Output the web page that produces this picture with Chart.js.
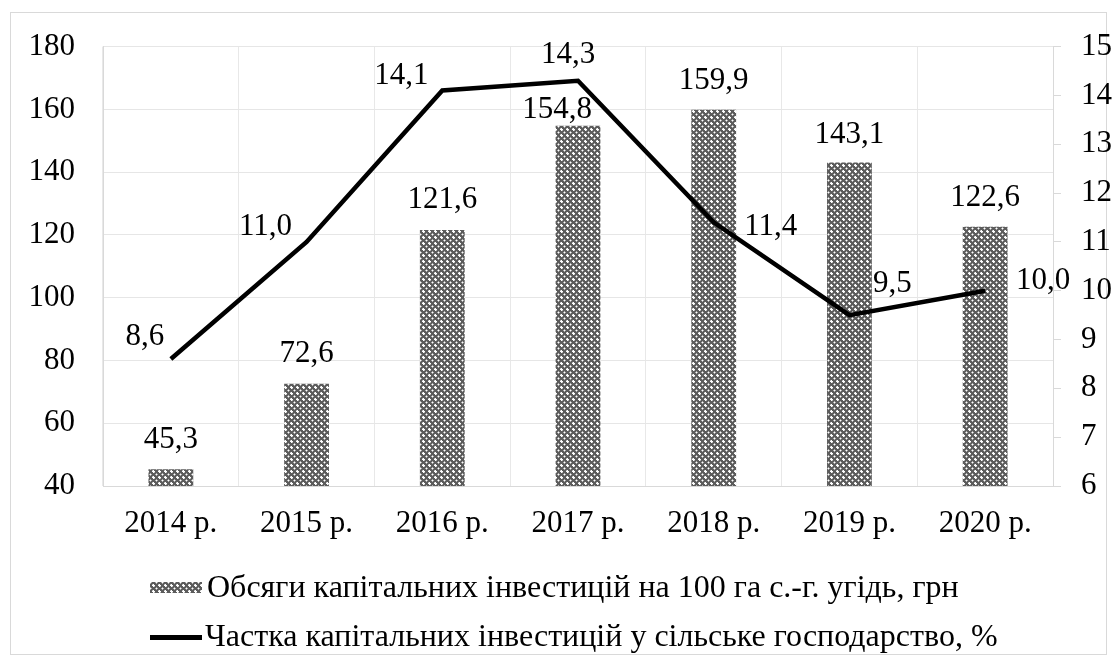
<!DOCTYPE html>
<html>
<head>
<meta charset="utf-8">
<script src="https://cdn.jsdelivr.net/npm/chart.js@4.4.1/dist/chart.umd.min.js"></script>
<style>
  html,body{margin:0;padding:0;background:#fff;}
  #wrap{position:relative;width:1117px;height:665px;}
</style>
</head>
<body>
<div id="wrap"><canvas id="chart" width="1117" height="665"></canvas></div>
<script>
// дані
const years = ['2014 р.','2015 р.','2016 р.','2017 р.','2018 р.','2019 р.','2020 р.'];
const invest100ha = [45.3, 72.6, 121.6, 154.8, 159.9, 143.1, 122.6];
const investShare = [8.6, 11.0, 14.1, 14.3, 11.4, 9.5, 10.0];
const leftTicks = [40, 180, 20];   // min, max, крок
const rightTicks = [6, 15, 1];

const barLabel = 'Обсяги капітальних інвестицій на 100 га с.-г. угідь, грн';
const lineLabel = 'Частка капітальних інвестицій у сільське господарство, %';

// зсуви підписів (як у Excel)
const barLblShift = [[0,-30],[0,-30],[0,-30],[-21,-16],[0,-29],[0,-28],[0,-29]];
const lineLblShift = [[-26,-22],[-41,-15],[-41,-15],[-10,-26],[57,4],[43,-31],[58,-10]];

const FONT = '"Liberation Serif","Times New Roman",serif';
const fmt = v => v.toFixed(1).replace('.', ',');

function makePattern(){
  const c = document.createElement('canvas');
  c.width = 6; c.height = 6;
  const g = c.getContext('2d');
  g.fillStyle = '#5c5c5c';
  g.fillRect(0,0,6,6);
  g.fillStyle = '#ffffff';
  [[3,2],[2,3],[3,3],[4,3],[3,4],[0,0]].forEach(p=>g.fillRect(p[0],p[1],1,1));
  g.fillStyle = '#b0b0b0';
  [[1,0],[0,1],[5,0],[0,5],[2,2],[4,4]].forEach(p=>g.fillRect(p[0],p[1],1,1));
  return g.createPattern(c,'repeat');
}
const pattern = makePattern();

const extras = {
  id:'extras',
  beforeDraw(chart){
    const ctx = chart.ctx;
    ctx.save();
    ctx.strokeStyle = '#d9d9d9'; ctx.lineWidth = 1;
    ctx.strokeRect(10.5, 12.5, 1096, 642);
    ctx.restore();
  },
  afterDatasetsDraw(chart){
    const ctx = chart.ctx;
    ctx.save();
    ctx.font = '31px ' + FONT;
    ctx.fillStyle = '#000';
    ctx.textAlign = 'center'; ctx.textBaseline = 'middle';
    chart.getDatasetMeta(0).data.forEach((el,i)=>{
      const s = barLblShift[i];
      ctx.fillText(fmt(invest100ha[i]), el.x + s[0], el.y + s[1]);
    });
    chart.getDatasetMeta(1).data.forEach((el,i)=>{
      const s = lineLblShift[i];
      ctx.fillText(fmt(investShare[i]), el.x + s[0], el.y + s[1]);
    });

    // легенда
    ctx.textAlign = 'left';
    ctx.font = '32px ' + FONT;
    const lx = 150, sw = 52;
    ctx.fillStyle = pattern;
    ctx.fillRect(lx, 582, sw, 11);
    ctx.fillStyle = '#000';
    ctx.fillText(barLabel, lx + sw + 5, 589);
    ctx.fillRect(lx, 635, sw, 5);
    ctx.fillText(lineLabel, lx + sw + 3, 638);
    ctx.restore();
  }
};

new Chart(document.getElementById('chart'), {
  data:{
    labels: years,
    datasets:[
      { type:'bar', label:barLabel, data:invest100ha, yAxisID:'y',
        backgroundColor:pattern, borderWidth:0,
        barPercentage:0.33, categoryPercentage:1, order:2 },
      { type:'line', label:lineLabel, data:investShare, yAxisID:'y1',
        borderColor:'#000', borderWidth:4.5, pointRadius:0, tension:0,
        fill:false, order:1 }
    ]
  },
  options:{
    responsive:false, animation:false,
    layout:{ padding:{ top:44, bottom:119, left:0, right:0 } },
    plugins:{ legend:{ display:false }, tooltip:{ enabled:false } },
    scales:{
      x:{
        grid:{ color:'#e8e8e8', drawTicks:false, offset:true },
        border:{ color:'#d9d9d9' },
        ticks:{ color:'#000', font:{ family:FONT, size:31 }, padding:19 },
        afterFit(s){ s.height = 60; }
      },
      y:{
        position:'left', min:leftTicks[0], max:leftTicks[1],
        grid:{ color:'#e6e6e6', drawTicks:false },
        border:{ color:'#d9d9d9' },
        ticks:{ stepSize:leftTicks[2], color:'#000', font:{ family:FONT, size:31 }, padding:28 },
        afterFit(s){ s.width = 103; }
      },
      y1:{
        position:'right', min:rightTicks[0], max:rightTicks[1],
        grid:{ drawOnChartArea:false, color:'#d9d9d9', tickLength:8 },
        border:{ color:'#d9d9d9' },
        ticks:{ stepSize:rightTicks[2], color:'#000', font:{ family:FONT, size:31 }, padding:20 },
        afterFit(s){ s.width = 64; }
      }
    }
  },
  plugins:[extras]
});
</script>
</body>
</html>
